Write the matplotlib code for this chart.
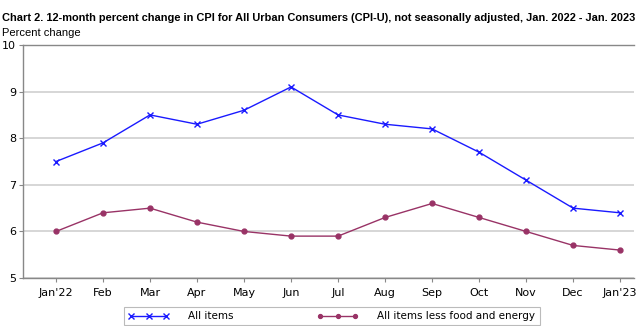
import matplotlib
matplotlib.use("Agg")
import matplotlib.pyplot as plt

months = ["Jan'22", "Feb", "Mar", "Apr", "May", "Jun", "Jul", "Aug", "Sep", "Oct", "Nov", "Dec", "Jan'23"]
all_items = [7.5, 7.9, 8.5, 8.3, 8.6, 9.1, 8.5, 8.3, 8.2, 7.7, 7.1, 6.5, 6.4]
core = [6.0, 6.4, 6.5, 6.2, 6.0, 5.9, 5.9, 6.3, 6.6, 6.3, 6.0, 5.7, 5.6]
yticks = [5, 6, 7, 8, 9, 10]

plt.rcParams['font.family'] = ['DejaVu Sans']
fig = plt.figure(figsize=(6.4, 3.26), dpi=100)
ax = fig.add_axes([0.036, 0.147, 0.955, 0.715])
x = list(range(len(months)))
l1, = ax.plot(x, all_items, color='#1a1aff', lw=1.0, marker='x', ms=5, mew=1.0, label='All items')
l2, = ax.plot(x, core, color='#993366', lw=1.0, marker='o', ms=3.5, label='All items less food and energy')

ax.set_ylim(5, 10)
ax.set_xlim(-0.7, 12.3)
ax.set_yticks(yticks)
ax.set_xticks(x)
ax.set_xticklabels(months)
ax.tick_params(axis='both', labelsize=8, length=3, color='#888888')
ax.tick_params(axis='x', pad=4)
ax.tick_params(axis='y', pad=2)
ax.yaxis.grid(True, color='#d0d0d0', lw=1.2)
ax.set_axisbelow(True)
for s in ['left', 'bottom', 'top']:
    ax.spines[s].set_color('#888888')
    ax.spines[s].set_linewidth(1.0)
ax.spines['right'].set_visible(False)

fig.text(0.003, 0.945, "Chart 2. 12-month percent change in CPI for All Urban Consumers (CPI-U), not seasonally adjusted, Jan. 2022 - Jan. 2023",
         fontsize=7.9, fontweight='bold', va='center', ha='left', family='Liberation Sans')
fig.text(0.003, 0.900, "Percent change", fontsize=8, va='center', ha='left', family='Liberation Sans')

leg = fig.legend(handles=[l1, l2], loc='center', bbox_to_anchor=(0.518, 0.03), ncol=2, fontsize=7.5,
                 numpoints=3, frameon=True, fancybox=False, edgecolor='#aaaaaa', handlelength=4.0,
                 columnspacing=8.0, borderpad=0.4, handletextpad=1.8, markerscale=0.8, borderaxespad=0.2)
leg.get_frame().set_linewidth(0.8)

fig.savefig("out.png", dpi=100)
